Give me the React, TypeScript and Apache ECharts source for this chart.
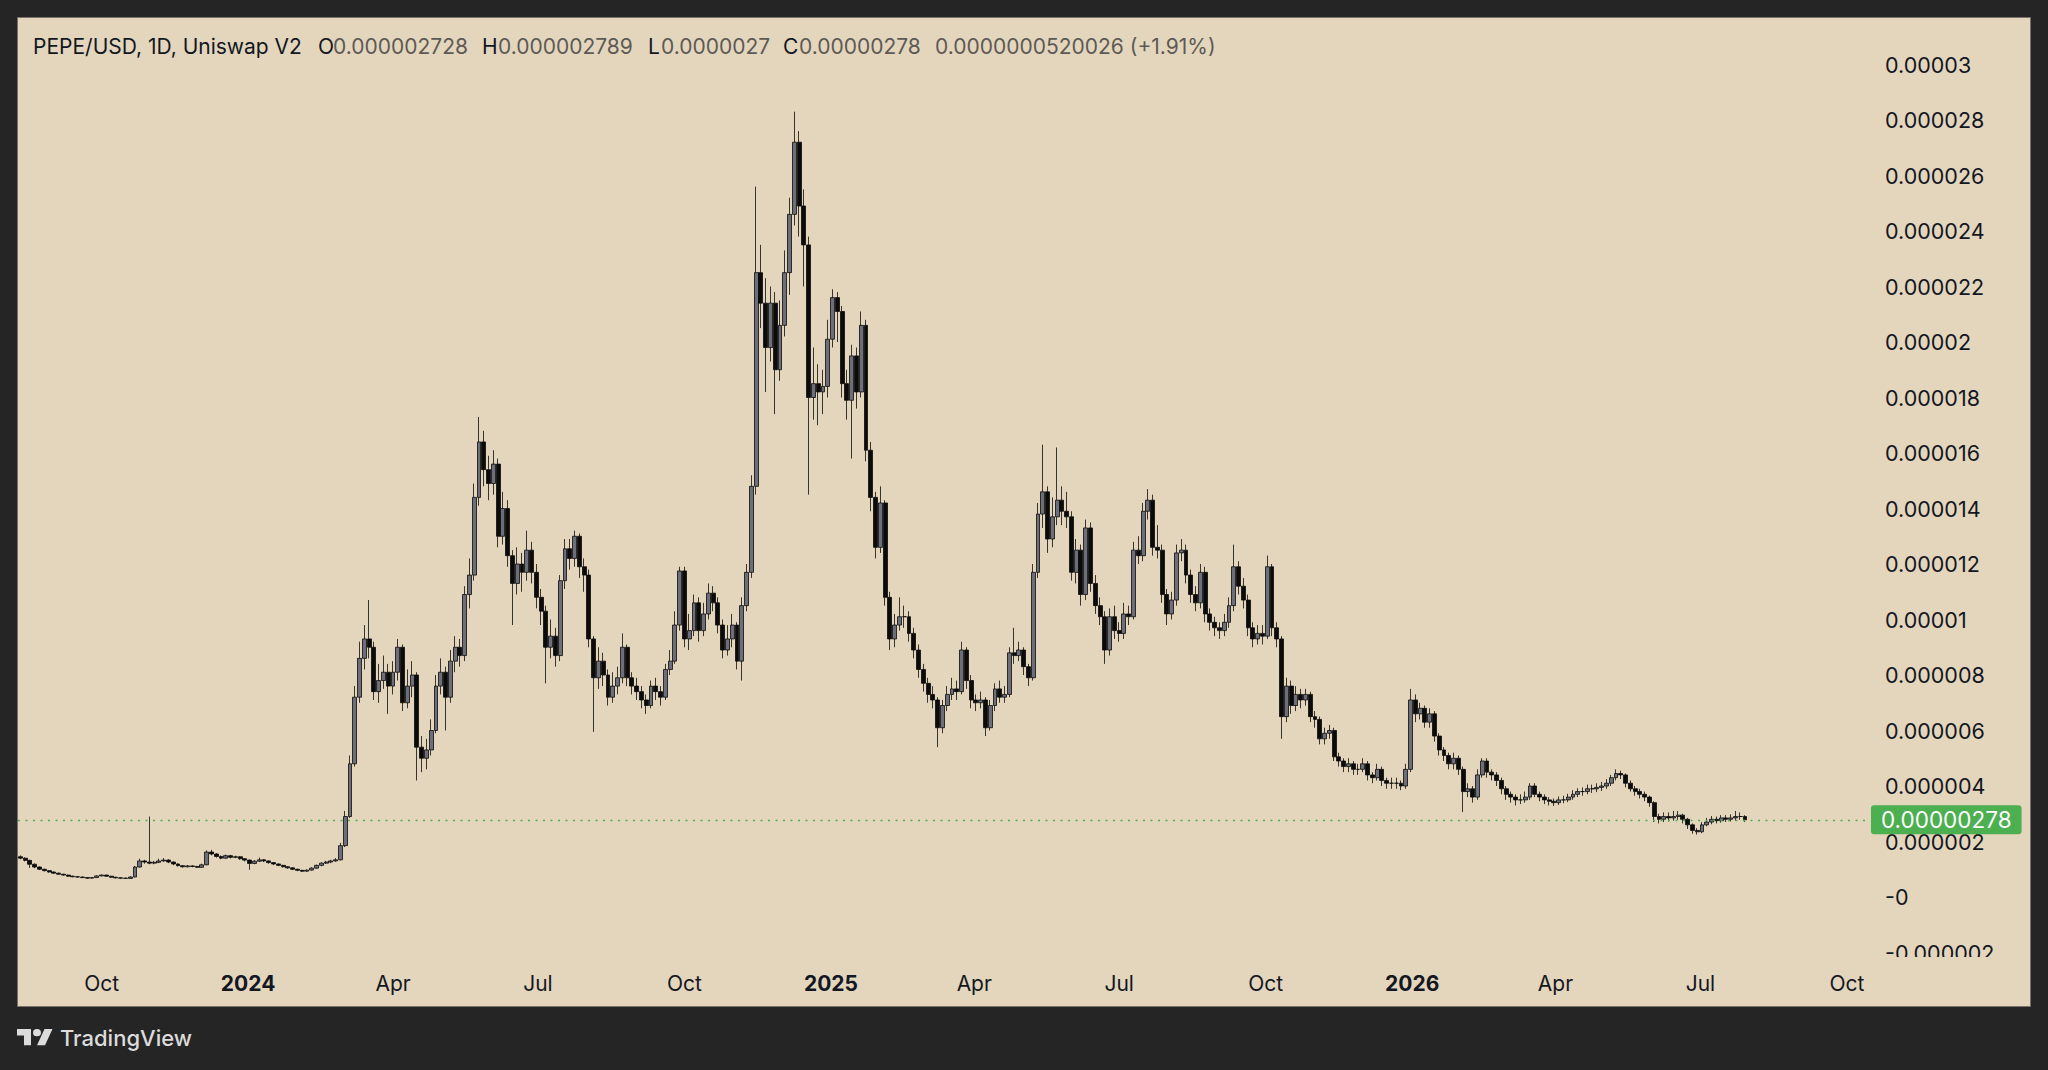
import React, { useEffect, useRef } from "react";
import * as echarts from "echarts";

// ---------- data (prices in millionths of a USD, one candle every 3 days) ----------
const CATEGORY_START_UTC = [2023, 7, 10]; // 2023-08-10, first day on the category axis
const CATEGORY_DAYS = 1163; // daily categories up to mid-Oct 2026
const FIRST_CANDLE_OFFSET = 1; // first candle on 2023-08-11
const CANDLE_STEP_DAYS = 3;
const FIRST_OPEN = 1.45;

const closes = [
  1.40,1.32,1.18,1.08,1.00,0.95,0.90,0.86,0.82,0.79,
  0.75,0.73,0.72,0.70,0.68,0.70,0.76,0.79,0.75,0.71,
  0.69,0.68,0.67,0.72,1.08,1.30,1.26,1.22,1.25,1.30,
  1.33,1.26,1.19,1.13,1.09,1.12,1.10,1.07,1.16,1.62,
  1.55,1.46,1.40,1.49,1.43,1.45,1.38,1.33,1.21,1.29,
  1.34,1.30,1.24,1.19,1.14,1.09,1.05,1.00,0.96,0.93,
  0.97,1.04,1.14,1.22,1.26,1.30,1.34,1.85,2.90,4.80,
  7.20,8.60,9.30,9.00,7.40,7.80,8.10,7.60,8.10,9.00,
  7.00,7.60,8.00,5.40,5.00,5.30,6.00,7.60,8.10,7.20,
  8.50,9.00,8.70,10.90,11.60,14.40,16.40,15.40,14.90,15.60,
  13.00,14.00,12.30,11.30,12.00,11.70,12.50,11.70,10.80,10.30,
  9.00,9.40,8.70,11.40,12.55,12.20,13.00,11.90,11.60,9.30,
  7.90,8.50,8.00,7.20,7.60,7.90,9.00,7.90,7.60,7.40,
  7.10,6.90,7.60,7.40,7.20,8.20,8.50,9.80,11.75,9.30,
  9.60,10.60,9.60,10.20,10.95,10.60,9.80,8.90,9.30,9.80,
  8.50,10.50,11.70,14.80,22.50,21.40,19.80,21.40,19.00,20.60,
  22.50,24.60,27.20,24.90,23.50,18.00,18.50,18.20,18.40,20.10,
  21.60,21.10,18.50,17.90,19.50,18.20,20.60,16.10,14.40,12.60,
  14.20,10.80,9.30,9.80,10.10,10.10,9.50,8.90,8.20,7.70,
  7.30,7.10,6.10,6.90,7.30,7.50,7.40,8.90,7.80,7.10,
  7.00,7.10,6.10,6.90,7.50,7.20,7.30,8.80,8.70,8.90,
  8.30,7.90,11.70,13.80,14.60,12.90,13.70,14.30,13.90,13.70,
  11.70,12.50,10.90,13.30,11.30,10.50,10.10,8.90,10.10,9.60,
  9.50,10.20,10.10,12.50,12.30,13.90,14.30,12.60,12.50,10.90,
  10.20,10.70,12.40,12.50,11.60,10.90,10.60,11.70,10.20,9.90,
  9.70,9.60,9.90,10.50,11.90,11.20,10.70,9.70,9.30,9.50,
  9.40,11.90,9.70,9.30,6.50,7.60,6.90,7.30,7.10,7.30,
  6.50,6.40,5.70,5.90,6.00,5.05,4.90,4.70,4.80,4.60,
  4.60,4.80,4.40,4.30,4.60,4.20,4.10,4.10,4.10,4.00,
  4.60,7.10,6.60,6.80,6.30,6.60,5.80,5.30,5.10,4.80,
  5.00,4.60,3.80,3.90,3.60,4.40,4.90,4.50,4.40,4.20,
  3.90,3.70,3.60,3.50,3.50,3.60,4.00,3.70,3.60,3.50,
  3.45,3.40,3.50,3.50,3.60,3.70,3.80,3.80,3.90,3.90,
  3.95,4.00,4.10,4.30,4.45,4.40,4.10,3.90,3.80,3.70,
  3.60,3.40,2.90,2.80,2.90,2.85,2.90,2.95,2.80,2.60,
  2.40,2.35,2.60,2.70,2.80,2.75,2.85,2.80,2.85,2.90,
  2.90,2.78,
];

const highs = [
  1.50,1.43,1.34,1.21,1.10,1.02,0.97,0.92,0.88,0.84,
  0.80,0.77,0.75,0.74,0.71,0.72,0.78,0.81,0.80,0.76,
  0.73,0.70,0.70,0.75,1.12,1.38,1.34,2.90,1.30,1.38,
  1.40,1.36,1.28,1.21,1.15,1.15,1.14,1.12,1.20,1.68,
  1.70,1.58,1.50,1.53,1.52,1.49,1.47,1.40,1.35,1.33,
  1.42,1.37,1.32,1.26,1.21,1.16,1.11,1.07,1.02,0.98,
  0.99,1.07,1.17,1.25,1.30,1.34,1.40,1.95,3.10,5.10,
  7.60,9.20,9.80,10.70,9.20,8.40,8.70,8.40,8.50,9.30,
  9.10,8.20,8.50,8.10,5.80,5.70,6.40,8.00,8.60,8.30,
  8.90,9.40,9.30,11.20,12.20,14.90,17.30,16.80,15.90,16.10,
  15.80,14.60,14.30,12.50,12.60,12.40,13.20,12.80,12.00,11.10,
  10.50,10.00,9.70,11.60,12.90,12.90,13.20,13.10,12.20,11.80,
  9.40,9.00,8.80,8.20,8.10,8.30,9.50,9.10,8.10,7.90,
  7.60,7.30,7.80,7.90,7.60,8.40,8.90,10.30,11.90,11.90,
  10.20,10.90,10.80,10.60,11.30,11.20,10.80,10.00,9.80,10.20,
  9.90,10.80,12.00,15.20,25.60,23.50,22.30,22.00,21.80,21.50,
  23.30,25.20,28.30,27.60,25.50,23.80,19.80,19.20,19.00,20.80,
  21.90,21.80,21.30,19.00,19.90,19.80,21.10,20.80,16.40,14.60,
  14.80,14.30,11.00,10.20,10.80,10.50,10.30,9.70,9.10,8.40,
  7.90,7.60,7.20,7.10,7.60,7.90,7.80,9.20,9.00,8.00,
  7.30,7.40,7.20,7.10,7.70,7.80,7.60,9.00,9.70,9.20,
  9.00,8.40,12.00,14.20,16.30,14.80,14.40,16.20,14.80,14.60,
  13.90,12.90,12.70,13.60,13.50,11.60,10.80,10.30,10.40,10.50,
  9.90,10.60,10.50,12.80,13.00,14.20,14.70,14.50,13.40,12.70,
  11.10,11.00,12.70,12.90,12.70,11.80,11.20,12.00,11.90,10.40,
  10.10,9.90,10.20,10.80,12.70,12.10,11.50,10.90,9.90,9.80,
  9.80,12.30,12.00,9.90,9.40,7.90,7.80,7.60,7.50,7.50,
  7.40,6.70,6.50,6.10,6.20,6.10,5.20,5.00,5.00,4.90,
  4.80,5.00,4.90,4.50,4.80,4.70,4.30,4.30,4.30,4.20,
  4.80,7.50,7.30,7.00,6.90,6.80,6.70,5.90,5.40,5.20,
  5.20,5.10,4.70,4.10,4.00,4.60,5.00,5.00,4.60,4.50,
  4.30,4.00,3.80,3.70,3.70,3.80,4.10,4.10,3.80,3.70,
  3.60,3.55,3.62,3.65,3.72,3.85,3.92,3.95,4.05,4.05,
  4.10,4.15,4.25,4.40,4.60,4.55,4.45,4.20,4.00,3.90,
  3.80,3.65,3.45,3.00,3.05,3.05,3.10,3.10,3.00,2.85,
  2.65,2.48,2.70,2.85,2.92,2.90,2.95,2.95,2.98,3.10,
  3.05,2.95,
];

const lows = [
  1.36,1.28,1.05,1.04,0.97,0.92,0.88,0.84,0.80,0.77,
  0.73,0.71,0.70,0.68,0.66,0.67,0.69,0.75,0.73,0.70,
  0.67,0.66,0.65,0.66,0.71,1.06,1.20,1.18,1.18,1.22,
  1.27,1.22,1.15,1.10,1.06,1.07,1.07,1.05,1.06,1.15,
  1.50,1.42,1.36,1.38,1.39,1.40,1.34,1.28,0.98,1.18,
  1.26,1.26,1.20,1.15,1.11,1.06,1.02,0.97,0.93,0.90,
  0.91,0.95,1.02,1.11,1.19,1.22,1.27,1.32,1.80,2.85,
  4.70,7.00,8.20,8.60,7.10,7.00,7.50,6.60,7.30,7.80,
  6.70,6.80,7.20,4.20,4.50,4.60,5.10,5.90,7.30,6.00,
  7.00,8.10,8.30,8.50,10.40,11.40,14.10,14.80,14.30,14.50,
  12.60,12.70,11.90,9.80,10.90,11.00,11.40,11.30,10.40,9.80,
  7.70,8.60,8.30,8.50,11.10,11.80,11.90,11.50,11.00,9.00,
  5.95,7.50,7.60,6.90,7.00,7.30,7.70,7.60,7.30,7.10,
  6.80,6.60,6.80,7.10,6.90,7.10,8.00,8.40,9.60,9.00,
  8.90,9.40,9.20,9.40,10.00,10.30,9.50,8.60,8.70,9.00,
  8.20,7.80,10.30,11.50,14.50,20.50,18.20,19.30,17.40,18.60,
  20.20,21.70,24.20,23.80,22.00,14.50,17.20,17.00,17.40,18.00,
  19.80,20.00,18.00,17.20,15.80,17.60,18.00,15.70,13.90,12.20,
  12.40,10.50,8.90,9.00,9.60,9.70,9.20,8.60,7.90,7.40,
  7.00,6.80,5.40,5.90,6.70,7.10,7.10,7.30,7.50,6.80,
  6.70,6.80,5.80,6.00,6.70,7.00,7.00,7.20,8.40,8.50,
  8.00,7.60,7.80,11.50,13.30,12.40,12.60,13.40,13.40,13.30,
  11.40,11.30,10.50,10.70,11.00,10.20,9.80,8.40,8.70,9.30,
  9.20,9.30,9.80,10.00,12.00,12.10,13.60,12.30,12.20,10.60,
  9.80,10.00,10.50,12.10,11.30,10.60,10.30,10.40,9.90,9.60,
  9.40,9.30,9.40,9.70,10.30,10.90,10.40,9.40,9.00,9.10,
  9.10,9.30,9.40,9.00,5.70,6.30,6.60,6.70,6.80,6.90,
  6.30,6.10,5.50,5.50,5.70,4.90,4.70,4.50,4.50,4.40,
  4.40,4.50,4.20,4.10,4.20,4.00,3.90,3.90,3.90,3.85,
  3.90,4.50,6.30,6.40,6.10,6.10,5.60,5.10,4.90,4.60,
  4.60,4.40,3.06,3.60,3.40,3.50,4.30,4.30,4.20,4.00,
  3.70,3.50,3.40,3.30,3.35,3.40,3.50,3.60,3.45,3.35,
  3.30,3.28,3.32,3.38,3.42,3.50,3.60,3.65,3.70,3.75,
  3.78,3.82,3.90,4.00,4.20,4.25,3.95,3.80,3.65,3.55,
  3.45,3.25,2.70,2.65,2.70,2.72,2.75,2.78,2.65,2.45,
  2.28,2.25,2.30,2.55,2.62,2.65,2.68,2.70,2.72,2.75,
  2.78,2.70,
];

// y axis ticks (millionths)
const Y_MIN = -2;
const Y_MAX = 30;
const Y_STEP = 2;

const MONTHS = ["Jan", "Feb", "Mar", "Apr", "May", "Jun", "Jul", "Aug", "Sep", "Oct", "Nov", "Dec"];
const LABEL_MONTHS = ["01", "04", "07", "10"];

// header texts
const HEADER_SYMBOL = "PEPE/USD, 1D, Uniswap V2";
const HEADER_OPEN = "0.000002728";
const HEADER_HIGH = "0.000002789";
const HEADER_LOW = "0.0000027";
const HEADER_CLOSE = "0.00000278";
const HEADER_CHANGE = "0.0000000520026 (+1.91%)";
const LAST_PRICE_LABEL = "0.00000278";

// ---------- styles ----------
const BG = "#252525";
const PANEL = "#e4d6bd";
const INK = "#131722";
const GREY_TEXT = "#5d5a55";
const GREEN = "#4caf50";
const FONT = "Inter, Roboto, 'Noto Sans', sans-serif";

const TV_LOGO_PATH =
  "M14 22H7V11H0V4h14v18zM28 22h-8l7.5-18h8L28 22zM24 8a4 4 0 1 1-8 0a4 4 0 1 1 8 0z";
let logoRegistered = false;
function ensureLogo() {
  if (logoRegistered) return;
  echarts.graphic.registerShape("tvlogo", echarts.graphic.extendPath(TV_LOGO_PATH, {}));
  logoRegistered = true;
}

function buildCategories(): string[] {
  const start = Date.UTC(CATEGORY_START_UTC[0], CATEGORY_START_UTC[1], CATEGORY_START_UTC[2]);
  const out: string[] = [];
  for (let k = 0; k < CATEGORY_DAYS; k++) {
    out.push(new Date(start + k * 86400000).toISOString().slice(0, 10));
  }
  return out;
}

function formatPrice(v: number): string {
  if (v === 0) return "-0";
  return String(Number((v / 1e6).toPrecision(4)));
}

export default function App() {
  const ref = useRef<HTMLDivElement>(null);

  useEffect(() => {
    if (!ref.current) return;
    ensureLogo();
    const chart = echarts.init(ref.current, null, { renderer: "svg" });
    const categories = buildCategories();
    const candles = closes.map((c, i) => [
      categories[FIRST_CANDLE_OFFSET + i * CANDLE_STEP_DAYS],
      i === 0 ? FIRST_OPEN : closes[i - 1],
      c,
      lows[i],
      highs[i],
    ]);
    const lastClose = closes[closes.length - 1];

    const headerY = 46;
    const headerFont = { fontSize: 21, fontFamily: FONT };
    const headerText = (x: number, text: string, fill: string) => ({
      type: "text",
      x,
      y: headerY,
      style: { text, fill, ...headerFont, textVerticalAlign: "middle" },
      silent: true,
    });

    const option: any = {
      animation: false,
      textStyle: { fontFamily: FONT },
      grid: { left: 18, right: 178, top: 64.5, bottom: 117.5, containLabel: false },
      xAxis: {
        type: "category",
        data: categories,
        boundaryGap: true,
        axisLine: { show: false },
        axisTick: { show: false },
        splitLine: { show: false },
        axisLabel: {
          interval: (_idx: number, value: string) =>
            value.slice(8, 10) === "01" && LABEL_MONTHS.includes(value.slice(5, 7)),
          formatter: (value: string) => {
            const m = Number(value.slice(5, 7));
            return m === 1 ? `{y|${value.slice(0, 4)}}` : MONTHS[m - 1];
          },
          margin: 20,
          fontSize: 21,
          color: INK,
          fontFamily: FONT,
          rich: { y: { fontSize: 21, fontWeight: "bold", color: INK, fontFamily: FONT } },
        },
      },
      yAxis: {
        type: "value",
        position: "right",
        min: Y_MIN,
        max: Y_MAX,
        interval: Y_STEP,
        scale: false,
        axisLine: { show: false },
        axisTick: { show: false },
        splitLine: { show: false },
        axisLabel: {
          formatter: formatPrice,
          margin: 15,
          fontSize: 21.5,
          lineHeight: 14,
          color: INK,
          fontFamily: FONT,
        },
      },
      series: [
        {
          type: "candlestick",
          data: candles,
          encode: { x: 0, y: [1, 2, 3, 4] },
          barWidth: 4.4,
          itemStyle: {
            color: "#6c6f79",
            color0: "#0b0b0b",
            borderColor: "#0b0b0b",
            borderColor0: "#0b0b0b",
            borderWidth: 0.8,
          },
          markLine: {
            silent: true,
            symbol: "none",
            animation: false,
            data: [{ yAxis: lastClose }],
            lineStyle: { color: GREEN, type: [2, 5.5], width: 1.3 },
            label: {
              show: true,
              position: "end",
              distance: 1,
              formatter: LAST_PRICE_LABEL,
              color: "#ffffff",
              backgroundColor: GREEN,
              padding: [4, 10, 2, 10],
              lineHeight: 23,
              borderRadius: 3,
              fontSize: 22.5,
              fontFamily: FONT,
            },
            emphasis: { disabled: true },
          },
        },
      ],
      graphic: [
        headerText(33, HEADER_SYMBOL, INK),
        headerText(318, "O", INK),
        headerText(333, HEADER_OPEN, GREY_TEXT),
        headerText(482, "H", INK),
        headerText(498, HEADER_HIGH, GREY_TEXT),
        headerText(648, "L", INK),
        headerText(661, HEADER_LOW, GREY_TEXT),
        headerText(783, "C", INK),
        headerText(799, HEADER_CLOSE, GREY_TEXT),
        headerText(935, HEADER_CHANGE, GREY_TEXT),
        {
          type: "rect",
          z: 100,
          shape: { x: 1872, y: 957, width: 157, height: 14 },
          style: { fill: PANEL },
          silent: true,
        },
        {
          type: "tvlogo",
          x: 17,
          y: 1025.5,
          scaleX: 1.0,
          scaleY: 0.9,
          style: { fill: "#dcdcdc" },
          silent: true,
        },
        {
          type: "text",
          x: 60,
          y: 1038,
          style: {
            text: "TradingView",
            fill: "#dcdcdc",
            fontSize: 22,
            fontWeight: 500,
            fontFamily: FONT,
            textVerticalAlign: "middle",
          },
          silent: true,
        },
      ],
    };

    chart.setOption(option);
    return () => chart.dispose();
  }, []);

  return (
    <div style={{ position: "fixed", left: 0, top: 0, width: 2048, height: 1070, background: BG, overflow: "hidden" }}>
      <div
        style={{
          position: "absolute",
          left: 17,
          top: 17,
          width: 2014,
          height: 990,
          boxSizing: "border-box",
          background: PANEL,
          border: "1px solid #77716a",
        }}
      />
      <div ref={ref} style={{ position: "absolute", left: 0, top: 0, width: 2048, height: 1070 }} />
    </div>
  );
}
